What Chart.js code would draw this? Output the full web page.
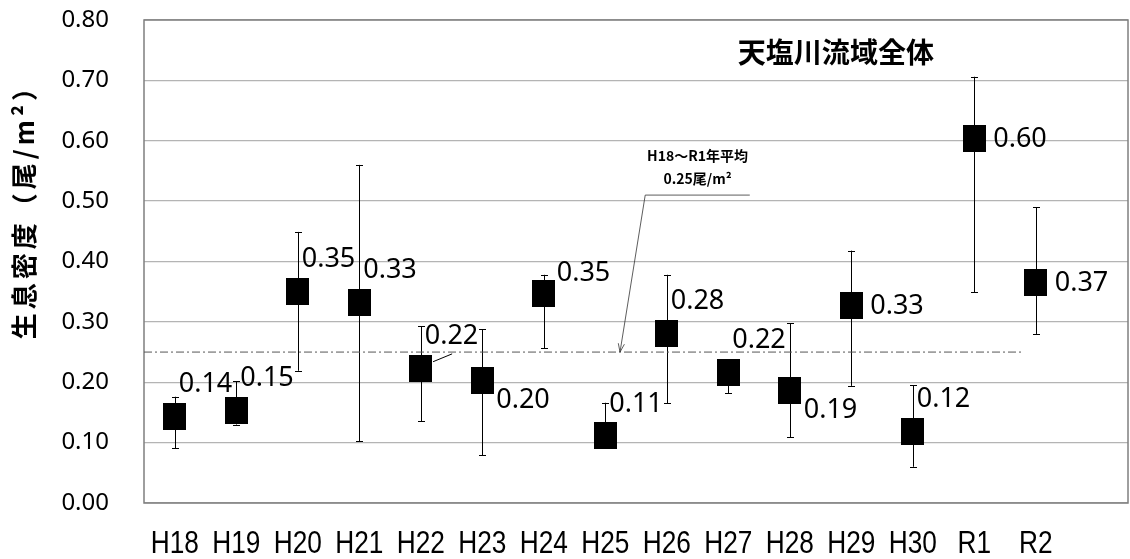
<!DOCTYPE html>
<html>
<head>
<meta charset="utf-8">
<script src="https://cdn.jsdelivr.net/npm/chart.js@4.4.1/dist/chart.umd.min.js"></script>
<style>
  html, body { margin: 0; padding: 0; background: #fff; }
</style>
</head>
<body>
<canvas id="densityChart" width="1130" height="559"></canvas>
<script>
// ---------------- data ----------------
const years = ['H18', 'H19', 'H20', 'H21', 'H22', 'H23', 'H24', 'H25', 'H26', 'H27', 'H28', 'H29', 'H30', 'R1', 'R2'];
const density = [0.143, 0.154, 0.351, 0.332, 0.223, 0.203, 0.347, 0.111, 0.281, 0.216, 0.186, 0.327, 0.119, 0.604, 0.365];
const errHigh = [0.176, 0.202, 0.449, 0.560, 0.293, 0.288, 0.378, 0.166, 0.378, 0.232, 0.298, 0.418, 0.195, 0.706, 0.490];
const errLow  = [0.091, 0.130, 0.219, 0.102, 0.135, 0.079, 0.256, 0.095, 0.165, 0.182, 0.109, 0.194, 0.060, 0.349, 0.280];
const valueLabels = ['0.14', '0.15', '0.35', '0.33', '0.22', '0.20', '0.35', '0.11', '0.28', '0.22', '0.19', '0.33', '0.12', '0.60', '0.37'];
const yTicks = [0, 0.1, 0.2, 0.3, 0.4, 0.5, 0.6, 0.7, 0.8];
const average = 0.25;          // H18~R1 average
const averageFrom = -0.5;      // the dash-dot line runs from the axis ...
const averageTo = 13.78;       // ... to just past R1

// where each value label sits relative to its marker
const labelPlace = ['above', 'above', 'above', 'above', 'above', 'below', 'upright', 'above',
                    'above', 'above', 'below', 'right', 'above', 'right', 'right'];

//################# marker: a slightly tall black block #################
const marker = document.createElement('canvas');
marker.width = 23;
marker.height = 27;
marker.getContext('2d').fillRect(0, 0, 23, 27);

//################# extra drawing: border, error bars, labels, notes #################
const overlay = {
    id: 'overlay',
    beforeDatasetsDraw(chart) {
        const { ctx, chartArea: a, scales: { x, y } } = chart;
        ctx.save();
        // plot frame
        ctx.strokeStyle = '#7f7f7f';
        ctx.lineWidth = 1.5;
        ctx.strokeRect(a.left, a.top, a.right - a.left, a.bottom - a.top);
        // error bars
        ctx.strokeStyle = '#000';
        ctx.lineWidth = 1;
        density.forEach((v, i) => {
            const px = Math.round(x.getPixelForValue(i)) + 0.5;
            const top = y.getPixelForValue(errHigh[i]);
            const bot = y.getPixelForValue(errLow[i]);
            ctx.beginPath();
            ctx.moveTo(px, top); ctx.lineTo(px, bot);
            ctx.moveTo(px - 3.5, Math.round(top) + 0.5); ctx.lineTo(px + 3.5, Math.round(top) + 0.5);
            ctx.moveTo(px - 3.5, Math.round(bot) + 0.5); ctx.lineTo(px + 3.5, Math.round(bot) + 0.5);
            ctx.stroke();
        });
        ctx.restore();
    },
    afterDatasetsDraw(chart) {
        const { ctx, chartArea: a, scales: { x, y } } = chart;
        ctx.save();
        // value labels
        ctx.fillStyle = '#000';
        ctx.font = '27px "Noto Sans"';
        ctx.textAlign = 'left';
        ctx.textBaseline = 'middle';
        density.forEach((v, i) => {
            const px = x.getPixelForValue(i);
            const py = y.getPixelForValue(v);
            let dx = 4, dy = -32;
            if (labelPlace[i] === 'below') { dx = 14; dy = 20; }
            if (labelPlace[i] === 'upright') { dx = 13; dy = -20; }
            if (labelPlace[i] === 'right') { dx = 19; dy = 1; }
            ctx.fillText(valueLabels[i], px + dx, py + dy);
        });

        // x category labels in a narrow face
        ctx.textAlign = 'center';
        ctx.font = '32px "Liberation Sans"';
        years.forEach((c, i) => {
            ctx.save();
            ctx.translate(x.getPixelForValue(i), a.bottom + 41);
            ctx.scale(0.82, 1);
            ctx.fillText(c, 0, 0);
            ctx.restore();
        });

        // small leader line from the H22 label to its marker
        ctx.strokeStyle = '#000';
        ctx.lineWidth = 1;
        ctx.beginPath();
        ctx.moveTo(x.getPixelForValue(4.2), y.getPixelForValue(0.234));
        ctx.lineTo(x.getPixelForValue(4.51), y.getPixelForValue(0.247));
        ctx.stroke();

        // chart title
        ctx.font = 'bold 28px "Noto Sans CJK JP"';
        ctx.fillText('天塩川流域全体', x.getPixelForValue(10.75), y.getPixelForValue(0.746));

        // average note
        ctx.font = 'bold 14px "Noto Sans CJK JP"';
        ctx.fillText('H18～R1年平均', x.getPixelForValue(8.5), y.getPixelForValue(0.576));
        ctx.fillText('0.25尾/m²', x.getPixelForValue(8.5), y.getPixelForValue(0.537));

        // leader with open arrow down to the average line
        const hx1 = x.getPixelForValue(9.35), hx2 = x.getPixelForValue(7.65);
        const hy = y.getPixelForValue(0.51);
        const tx = x.getPixelForValue(7.24), ty = y.getPixelForValue(average);
        ctx.strokeStyle = '#333';
        ctx.lineWidth = 0.8;
        ctx.beginPath();
        ctx.moveTo(hx1, hy); ctx.lineTo(hx2, hy); ctx.lineTo(tx, ty);
        ctx.stroke();
        const ang = Math.atan2(ty - hy, tx - hx2);
        ctx.beginPath();
        ctx.moveTo(tx - 9 * Math.cos(ang - 0.35), ty - 9 * Math.sin(ang - 0.35));
        ctx.lineTo(tx, ty);
        ctx.lineTo(tx - 9 * Math.cos(ang + 0.35), ty - 9 * Math.sin(ang + 0.35));
        ctx.stroke();

        // y axis title
        ctx.translate(24, y.getPixelForValue(0.49));
        ctx.rotate(-Math.PI / 2);
        ctx.font = 'bold 26px "Noto Sans CJK JP"';
        ctx.letterSpacing = '4px';
        ctx.fillText('生息密度（尾/m²）', 2, 0);
        ctx.restore();
    }
};

//################# build the chart #################
const densityChart = new Chart(document.getElementById('densityChart'), {
    type: 'scatter',
    data: {
        datasets: [
            {
                label: '生息密度',
                data: density.map((v, i) => ({ x: i, y: v })),
                pointStyle: marker,
                pointRadius: 12,
                order: 1,
            },
            {
                type: 'line',
                label: 'H18～R1年平均',
                data: [{ x: averageFrom, y: average }, { x: averageTo, y: average }],
                borderColor: '#555',
                borderWidth: 1,
                borderDash: [8, 3, 2, 3],
                pointRadius: 0,
                fill: false,
                order: 2,
            },
        ],
    },
    options: {
        responsive: false,
        animation: false,
        devicePixelRatio: 1,
        layout: { autoPadding: false, padding: { top: 20, right: 2, left: 0, bottom: 0 } },
        plugins: {
            legend: { display: false },
            tooltip: { enabled: false },
        },
        scales: {
            x: {
                type: 'linear',
                min: -0.5,
                max: 15.5,
                grid: { display: false, drawTicks: false },
                border: { display: false },
                ticks: { display: false },
                afterFit: (scale) => {
                    scale.height = 56;
                    scale.paddingLeft = 0;
                    scale.paddingRight = 0;
                },
            },
            y: {
                min: 0,
                max: 0.8,
                grid: { color: '#b4b4b4', lineWidth: 1.3, drawTicks: false },
                border: { display: false },
                afterBuildTicks: (scale) => { scale.ticks = yTicks.map(v => ({ value: v })); },
                afterFit: (scale) => {
                    scale.width = 144;
                    scale.paddingTop = 0;
                    scale.paddingBottom = 0;
                },
                ticks: {
                    padding: 35,
                    color: '#000',
                    font: { family: '"Noto Sans"', size: 24 },
                    callback: (v) => v.toFixed(2),
                },
            },
        },
    },
    plugins: [overlay],
});
</script>
</body>
</html>
